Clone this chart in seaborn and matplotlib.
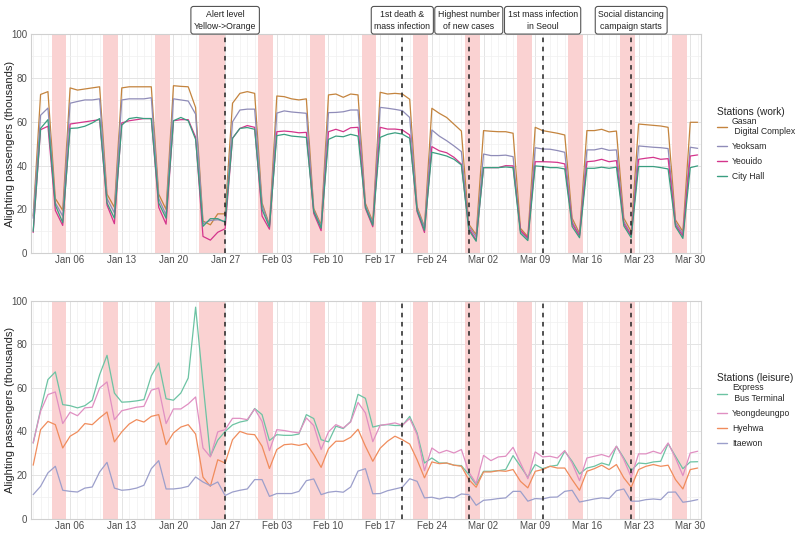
import numpy as np
import pandas as pd
import matplotlib
matplotlib.use('Agg')
import matplotlib.pyplot as plt
import matplotlib.dates as mdates
from matplotlib.transforms import blended_transform_factory
import seaborn as sns

dates = pd.date_range('2020-01-01', '2020-03-31', freq='D')

# work stations (thousands of alighting passengers), Jan / Feb / Mar
gasan = [17, 72.5, 73.8, 25, 19.6, 75.5, 74.5, 75, 75.5, 76, 27, 21, 75.5, 76, 76, 76, 76, 27, 20, 76.5,
         76.2, 76, 66.5, 14.7, 13, 18, 18, 68.5, 73, 73.8, 73,
         23, 13, 71.8, 71.5, 70.5, 70, 70.5, 20.5, 12.9, 72.3, 72.7, 71.2, 72.7, 72.3, 22.8, 14.4, 73.5, 72.7,
         73, 72.7, 70.3, 21.3, 12.1, 66.2, 63.9, 62, 58.9, 55.8, 13.3,
         8.5, 56, 55.7, 55.5, 55.5, 54.8, 11.4, 7.6, 57.5, 56, 55.4, 54.8, 54, 16, 9.1, 56, 56, 56.6, 55.4,
         55.8, 16, 9.9, 59, 58.7, 58.4, 58.1, 57.5, 15.2, 9.9, 59.8, 59.8]
yeoksam = [16, 63, 66.3, 23, 17, 68.5, 69.3, 70, 70, 70.5, 25, 18.5, 70, 70.5, 70.5, 70.5, 71, 25, 17.5, 70.5,
           70, 69.5, 63.5, 13.5, 15, 15.3, 14.5, 60, 65.4, 65.8, 65.8,
           22, 12.5, 64, 65, 64.5, 64.2, 63.9, 19.7, 12.2, 64.2, 64.3, 64.6, 65.4, 65.4, 22, 13.6, 66.6, 66.2,
           65.7, 65.1, 62, 20.4, 11.7, 56.3, 53.5, 51.4, 49, 46.4, 12.5,
           7.5, 45.3, 44.6, 44.6, 44.8, 44.1, 9.9, 6.5, 48.2, 47.6, 47.5, 46.9, 46.1, 14.4, 8.3, 47.2, 47.2,
           47.9, 47, 47.2, 14.5, 8.5, 49, 48.7, 48.4, 48.2, 47.8, 14, 8.8, 48.4, 47.9]
yeouido = [9.5, 56.4, 58, 19.6, 12.7, 59, 59.5, 60, 60.5, 61, 22, 13.5, 59.5, 60.5, 61, 61.5, 61.5, 21, 13.3,
           60.5, 61, 61, 53, 7.7, 6, 9.6, 11.2, 52.5, 57, 58.3, 57.5,
           17, 11, 55.5, 55.8, 55.5, 55, 55.2, 18.2, 10.3, 55.5, 56.6, 55.5, 57.3, 57.5, 20.5, 12.1, 57.5, 56.7,
           56.7, 56.3, 54, 19, 9.5, 48.7, 46.8, 45.9, 43.8, 40.7, 11.5,
           6, 39.1, 39.1, 39.1, 40, 39.9, 10.5, 7, 41.8, 41.8, 41.7, 41.5, 40.8, 13.5, 7.9, 41.8, 42.1, 42.9,
           41.8, 42.3, 13.5, 8, 42.9, 43.4, 43.8, 42.9, 43.2, 12.9, 7.9, 44.4, 44.9]
city_hall = [10, 57, 61, 22, 14, 57, 57.2, 58, 59.5, 61.5, 23, 16, 58.5, 61.5, 62, 61.5, 61.5, 23, 16, 60.5,
             62, 60.5, 52, 12.3, 15.8, 15.8, 14.2, 52.5, 57, 57.4, 56.6,
             20, 12, 53.7, 54.3, 53.5, 53.2, 52.9, 19, 11.5, 52, 53.5, 53.2, 54.3, 53.5, 21, 12.8, 52.9, 54.3,
             55, 54.4, 52.5, 19.5, 10.5, 46.1, 45.3, 44.4, 42.9, 40.3, 10.6,
             5.5, 39.1, 39.1, 39.1, 39.4, 39.1, 9.1, 5.8, 39.9, 39.6, 39.1, 39.1, 38.5, 12.2, 7.1, 38.8, 38.8,
             39.3, 38.8, 39.3, 12.5, 7.1, 39.6, 39.6, 39.6, 39.1, 38.5, 12.2, 6.8, 39.1, 39.9]

# leisure stations
express_bus = [34.7, 50, 63.8, 67.3, 52.3, 51.8, 50.8, 51.8, 54.3, 66, 74.9, 57.6, 53.4, 53.6, 54, 54.6, 65.5,
               71.4, 55, 54.3, 57.6, 64.5, 97, 62, 28.6, 36, 40, 43, 44.3, 45, 50.5,
               47.7, 35.8, 38.5, 38.2, 38.2, 38.8, 47.7, 45.9, 36.2, 35.2, 42.4, 41.3, 44.6, 57, 55.2, 42, 42.8,
               43.1, 42.7, 42.7, 46.9, 39.3, 25.5, 27.8, 25.5, 25.5, 24.5, 24.3, 20.2,
               15.6, 21.7, 21.7, 22, 22.5, 28.9, 24, 19, 24.8, 22.9, 24, 24.5, 30.9, 26.3, 20.5, 23.2, 24, 25.5,
               24.5, 33.2, 27.8, 22, 25.5, 25.2, 26, 26.3, 34.4, 28.6, 22.9, 26, 26.1]
yeongdeungpo = [34.7, 49.2, 56.9, 58.1, 43.6, 48.8, 47.2, 50.8, 51.1, 59.9, 62.7, 45.4, 49.5, 50.3, 51.1, 51.5,
                58.9, 59.9, 43.6, 50.3, 50.3, 52.6, 55.8, 32.4, 28.3, 39.8, 40.8, 46, 46, 45.4, 50.3,
                44.6, 31.2, 40.8, 40.4, 39.8, 39.3, 46.2, 42.7, 31.7, 39.8, 43.1, 41.6, 44.3, 53.3, 48.5, 35.3,
                42.8, 43.3, 43.9, 42.8, 45.9, 38.5, 22, 32.4, 30.1, 31.3, 30.1, 31.7, 21.4,
                16.1, 29, 26.6, 28.3, 28.6, 32.7, 25.5, 18.3, 30.6, 28.3, 28.6, 27.8, 31.2, 25.5, 17.4, 27.8,
                28.6, 29.4, 28.3, 33.2, 27.1, 19, 29.7, 29.7, 30.9, 29.8, 34.7, 27.8, 19.7, 30.1, 30.9]
hyehwa = [24.5, 40.8, 44.6, 43.1, 32.4, 37.8, 39.8, 43.6, 43.1, 46.2, 48.9, 35.2, 39.8, 43.4, 45.4, 44.3, 46.9,
          47.7, 33.9, 39.3, 42, 43.1, 38.8, 19, 14.8, 27, 25.5, 36.2, 40, 38.8, 38.5,
          33.2, 23, 31.7, 33.9, 34.2, 33.6, 34.4, 29.4, 23.5, 32.1, 35.5, 35.5, 37.3, 41, 33.2, 26.3, 32.3,
          35.5, 37.8, 36.2, 34.2, 27, 18.7, 26, 25.2, 25.5, 24.5, 24, 17.9,
          14.4, 21.4, 21.4, 22, 21.7, 22.5, 17.1, 14.1, 21.7, 22.5, 24, 23.2, 23.2, 17.9, 13, 21.7, 22.9, 24.5,
          22.5, 24.8, 18.7, 14.4, 22.5, 24, 24.8, 24, 24.5, 17.9, 13.6, 22.5, 23.2]
itaewon = [11, 14.8, 21, 24, 13, 12.5, 12.2, 14, 14.5, 21.4, 25.8, 14, 13, 13.3, 14, 15.3, 22.9, 26.6, 13.6,
           13.6, 14, 14.8, 19.1, 16.8, 15.1, 16.8, 10.6, 12.2, 13, 13.6, 17.9,
           17.9, 10.2, 11.5, 11.5, 11.5, 12.5, 17.4, 18.2, 11, 12.1, 12.5, 12.1, 14.5, 21.8, 22.9, 11.4, 11.5,
           12.8, 13.6, 14.4, 18.3, 17.1, 9.5, 9.8, 9, 9.8, 9.5, 11.3, 11,
           6.1, 8.4, 8.7, 9.2, 9.5, 12.5, 12.5, 8, 9.2, 9, 9.8, 9.9, 12.5, 13, 7.6, 8.3, 9, 9.5, 9.2, 12.8,
           13.6, 8, 8, 8.7, 9, 8.7, 12.1, 12.2, 7.5, 8, 8.7]

work_names = ['Gasan\n Digital Complex', 'Yeoksam', 'Yeouido', 'City Hall']
leisure_names = ['Express\n Bus Terminal', 'Yeongdeungpo', 'Hyehwa', 'Itaewon']
work_colors = ['#C4843E', '#8F8CB8', '#D4358C', '#3A9E80']
leisure_colors = ['#6CC3A3', '#E08FC2', '#F08C5C', '#9C9FCB']

# weekends / holidays (shaded)
off_days = [('2020-01-04', '2020-01-05'), ('2020-01-11', '2020-01-12'), ('2020-01-18', '2020-01-19'),
            ('2020-01-24', '2020-01-26'), ('2020-02-01', '2020-02-02'), ('2020-02-08', '2020-02-09'),
            ('2020-02-15', '2020-02-16'), ('2020-02-22', '2020-02-23'), ('2020-02-29', '2020-03-01'),
            ('2020-03-07', '2020-03-08'), ('2020-03-14', '2020-03-15'), ('2020-03-21', '2020-03-22'),
            ('2020-03-28', '2020-03-29')]
event_dates = ['2020-01-27', '2020-02-20', '2020-02-29', '2020-03-10', '2020-03-22']
event_labels = ['Alert level\nYellow->Orange', '1st death &\nmass infection', 'Highest number\nof new cases',
                '1st mass infection\nin Seoul', 'Social distancing\ncampaign starts']

sns.set_theme(style='white')
plt.rcParams['font.family'] = ['Liberation Sans', 'DejaVu Sans']

work_df = pd.DataFrame({'date': np.tile(dates, 4),
                        'station': np.repeat(work_names, len(dates)),
                        'passengers': np.concatenate([gasan, yeoksam, yeouido, city_hall])})
leisure_df = pd.DataFrame({'date': np.tile(dates, 4),
                           'station': np.repeat(leisure_names, len(dates)),
                           'passengers': np.concatenate([express_bus, yeongdeungpo, hyehwa, itaewon])})

fig = plt.figure(figsize=(8, 5.33), dpi=100)
ax1 = fig.add_axes([0.0384, 0.5248, 0.8375, 0.411])
ax2 = fig.add_axes([0.0384, 0.0270, 0.8375, 0.409])

half = pd.Timedelta(hours=12)
panels = [(ax1, work_df, work_names, work_colors, 'Stations (work)', 0.50),
          (ax2, leisure_df, leisure_names, leisure_colors, 'Stations (leisure)', 0.495)]

for ax, df, names, colors, title, ly in panels:
    ax.grid(True, which='major', color='#E4E4E4', linewidth=0.7, zorder=0)
    ax.grid(True, which='minor', color='#F0F0F0', linewidth=0.5, zorder=0)
    for a, b in off_days:
        end = pd.Timestamp(b) + half
        if a == '2020-01-24':
            end = pd.Timestamp('2020-01-27')
        ax.axvspan(pd.Timestamp(a) - half, end, color='#FAD2D2', lw=0, zorder=1)
    sns.lineplot(data=df, x='date', y='passengers', hue='station', hue_order=names,
                 palette=colors, linewidth=0.9, ax=ax, zorder=3)
    for d in event_dates:
        ax.axvline(pd.Timestamp(d), color='#222222', linestyle=(0, (3, 3)), linewidth=1.1, zorder=4)

    ax.set_xlim(dates[0] - pd.Timedelta(hours=8), dates[-1] + pd.Timedelta(hours=10))
    ax.set_ylim(0, 100)
    ax.set_yticks([0, 20, 40, 60, 80, 100])
    ax.set_yticks([10, 30, 50, 70, 90], minor=True)
    ax.xaxis.set_major_locator(mdates.WeekdayLocator(byweekday=mdates.MO))
    ax.xaxis.set_major_formatter(mdates.DateFormatter('%b %d'))
    ax.xaxis.set_minor_locator(mdates.DayLocator())
    ax.tick_params(axis='both', which='both', length=0, labelsize=7, colors='#4D4D4D', pad=2.5)
    ax.tick_params(axis='x', pad=1.5)
    ax.set_xlabel('')
    ax.set_ylabel('')
    for s in ax.spines.values():
        s.set_color('#D0D0D0')
        s.set_linewidth(0.8)

    leg = ax.legend(title=title, loc='center left', bbox_to_anchor=(1.012, ly), frameon=False,
                    fontsize=6.2, title_fontsize=7.3, handlelength=1.2, labelspacing=0.7,
                    handletextpad=0.6)
    leg._legend_box.align = 'left'
    leg._legend_box.sep = 0
    for h in leg.get_lines():
        h.set_linewidth(1.0)

    # y label, placed in figure coords so it is not clipped
    bb = ax.get_position()
    fig.text(0.012, bb.y0 + bb.height / 2, 'Alighting passengers (thousands)', rotation=90,
             ha='center', va='center', fontsize=8, color='#222222')

trans = blended_transform_factory(ax1.transData, fig.transFigure)
for d, lab in zip(event_dates, event_labels):
    fig.text(mdates.date2num(pd.Timestamp(d)), 0.962, lab, transform=trans, ha='center', va='center',
             fontsize=6.3, color='#222222', linespacing=1.5,
             bbox=dict(boxstyle='round,pad=0.35,rounding_size=0.3', facecolor='white',
                       edgecolor='#555555', linewidth=0.8))

fig.savefig('out.png', dpi=100)
